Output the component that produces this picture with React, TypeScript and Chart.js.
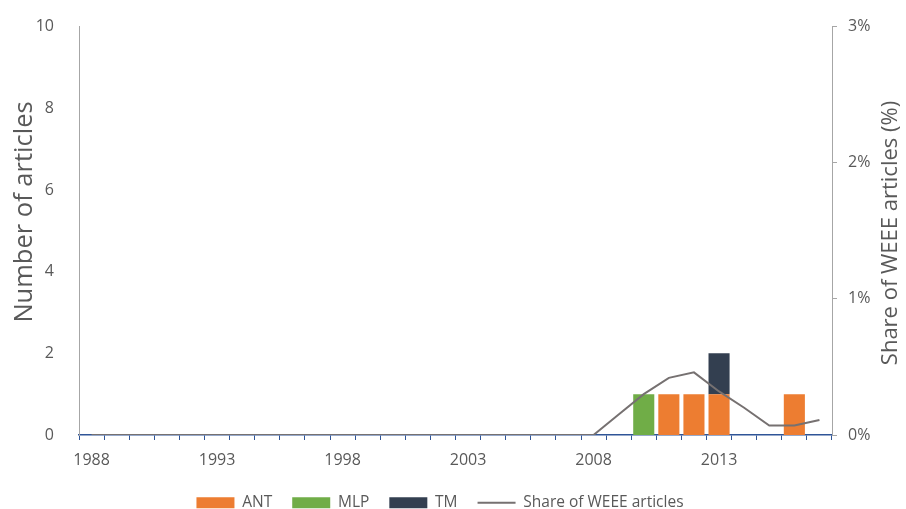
import React, { useEffect, useRef } from "react";
import { Chart, registerables } from "chart.js";

Chart.register(...registerables);

const years = [
  "1988", "1989", "1990", "1991", "1992", "1993", "1994", "1995", "1996", "1997",
  "1998", "1999", "2000", "2001", "2002", "2003", "2004", "2005", "2006", "2007",
  "2008", "2009", "2010", "2011", "2012", "2013", "2014", "2015", "2016", "2017",
];
const tickLabels = ["1988", "1993", "1998", "2003", "2008", "2013"];

const antValues = [
  0, 0, 0, 0, 0, 0, 0, 0, 0, 0,
  0, 0, 0, 0, 0, 0, 0, 0, 0, 0,
  0, 0, 0, 1, 1, 1, 0, 0, 1, 0,
];
const mlpValues = [
  0, 0, 0, 0, 0, 0, 0, 0, 0, 0,
  0, 0, 0, 0, 0, 0, 0, 0, 0, 0,
  0, 0, 1, 0, 0, 0, 0, 0, 0, 0,
];
const tmValues = [
  0, 0, 0, 0, 0, 0, 0, 0, 0, 0,
  0, 0, 0, 0, 0, 0, 0, 0, 0, 0,
  0, 0, 0, 0, 0, 1, 0, 0, 0, 0,
];
const shareValues = [
  0, 0, 0, 0, 0, 0, 0, 0, 0, 0,
  0, 0, 0, 0, 0, 0, 0, 0, 0, 0,
  0, 0.15, 0.3, 0.42, 0.46, 0.32, 0.2, 0.07, 0.07, 0.11,
];

const FONT = "'Open Sans', sans-serif";
const TEXT = "#595959";

const titlePlugin = {
  id: "axisTitles",
  afterDraw(chart: any) {
    const ctx = chart.ctx;
    ctx.save();
    ctx.fillStyle = TEXT;
    ctx.font = `25.5px ${FONT}`;
    ctx.textAlign = "center";
    ctx.textBaseline = "middle";
    ctx.translate(25, 212);
    ctx.rotate(-Math.PI / 2);
    ctx.fillText("Number of articles", 0, 0);
    ctx.restore();
    ctx.save();
    ctx.fillStyle = TEXT;
    ctx.font = `22px ${FONT}`;
    ctx.textAlign = "center";
    ctx.textBaseline = "middle";
    ctx.translate(891, 233);
    ctx.rotate(-Math.PI / 2);
    ctx.fillText("Share of WEEE articles (%)", 0, 0);
    ctx.restore();
  },
};

export default function App() {
  const ref = useRef<HTMLCanvasElement>(null);
  useEffect(() => {
    document.body.style.margin = "0";
    Chart.defaults.font.family = FONT;
    const chart = new Chart(ref.current!, {
      type: "bar",
      data: {
        labels: years,
        datasets: [
          { label: "ANT", data: antValues, backgroundColor: "#ED7D31", borderWidth: 0, order: 1, yAxisID: "y" },
          { label: "MLP", data: mlpValues, backgroundColor: "#70AD47", borderWidth: 0, order: 1, yAxisID: "y" },
          { label: "TM", data: tmValues, backgroundColor: "#333F50", borderWidth: 0, order: 1, yAxisID: "y" },
          {
            type: "line",
            label: "Share of WEEE articles",
            data: shareValues,
            borderColor: "#767171",
            backgroundColor: "#767171",
            borderWidth: 2,
            pointRadius: 0,
            tension: 0,
            order: 0,
            yAxisID: "y1",
          } as any,
        ],
      },
      options: {
        animation: false,
        responsive: false,
        layout: { padding: { top: 22, left: 0, right: 26, bottom: 0 } },
        datasets: { bar: { barPercentage: 0.84, categoryPercentage: 1 } } as any,
        plugins: {
          tooltip: { enabled: false },
          legend: {
            position: "bottom",
            maxHeight: 34,
            labels: {
              usePointStyle: true,
              pointStyleWidth: 38,
              boxHeight: 11,
              padding: 20,
              color: TEXT,
              font: { size: 15.5, family: FONT },
              generateLabels: (c: any) => {
                const items = (Chart.defaults.plugins.legend.labels as any).generateLabels(c);
                items.forEach((it: any) => {
                  it.pointStyle = it.datasetIndex === 3 ? "line" : "rect";
                });
                items.sort((a: any, b: any) => a.datasetIndex - b.datasetIndex);
                return items;
              },
            },
          } as any,
        },
        scales: {
          x: {
            stacked: true,
            offset: true,
            grid: {
              display: true,
              drawOnChartArea: false,
              drawTicks: true,
              tickLength: 5,
              color: "#2F5597",
              offset: true,
            },
            border: { display: true, color: "#2F5597", width: 1.5 },
            ticks: {
              autoSkip: false,
              maxRotation: 0,
              minRotation: 0,
              padding: 11,
              color: TEXT,
              font: { size: 16, family: FONT },
              callback: (_v: any, i: number) => (tickLabels.includes(years[i]) ? years[i] : ""),
            },
            afterFit: (s: any) => {
              const lg = s.chart.legend;
              s.height = 74 - (lg ? lg.height : 0);
            },
          },
          y: {
            stacked: true,
            position: "left",
            min: 0,
            max: 10,
            grid: { display: false },
            border: { display: true, color: "#A6A6A6", width: 1 },
            ticks: { stepSize: 2, padding: 17, color: TEXT, font: { size: 16, family: FONT } },
            afterFit: (s: any) => {
              s.width = 79;
            },
          },
          y1: {
            position: "right",
            min: 0,
            max: 3,
            grid: { display: true, drawOnChartArea: false, drawTicks: true, tickLength: 5, color: "#A6A6A6" },
            border: { display: true, color: "#A6A6A6", width: 1 },
            ticks: {
              stepSize: 1,
              padding: 11,
              color: TEXT,
              font: { size: 16, family: FONT },
              callback: (v: any) => `${v}%`,
            },
            afterFit: (s: any) => {
              s.width = 48;
            },
          },
        },
      },
      plugins: [titlePlugin],
    });
    return () => chart.destroy();
  }, []);
  return (
    <div style={{ width: 906, height: 509 }}>
      <canvas ref={ref} width={906} height={509} style={{ width: 906, height: 509, display: "block" }} />
    </div>
  );
}
